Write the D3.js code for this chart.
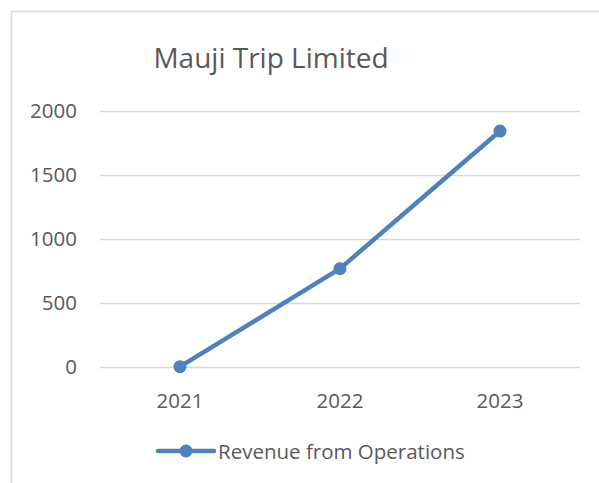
<!DOCTYPE html>
<html>
<head>
<meta charset="utf-8">
<script src="https://cdn.jsdelivr.net/npm/d3@7"></script>
<style>
  body { margin: 0; background: #fff; }
  text { font-family: "Open Sans", sans-serif; fill: #595959; }
</style>
</head>
<body>
<svg width="599" height="483"></svg>
<script>
  const years = ['2021', '2022', '2023'];
  const revenue = [0, 766, 1841];
  const yTicks = [0, 500, 1000, 1500, 2000];
  const seriesName = 'Revenue from Operations';

  const svg = d3.select('svg');
  const color = '#4f81bd';

  // chart area border (cropped at right and bottom)
  svg.append('rect')
    .attr('x', 11.5).attr('y', 11.5)
    .attr('width', 700).attr('height', 600)
    .attr('fill', 'none')
    .attr('stroke', '#d9d9d9')
    .attr('stroke-width', 1.5);

  svg.append('text')
    .attr('x', 271).attr('y', 68)
    .attr('text-anchor', 'middle')
    .style('font-size', '28px')
    .text('Mauji Trip Limited');

  const x = d3.scaleBand().domain(years).range([100, 580]);
  const y = d3.scaleLinear().domain([0, 2000]).range([366.7, 110.7]);

  // gridlines
  svg.append('g').selectAll('line')
    .data(yTicks)
    .enter().append('line')
      .attr('x1', 100).attr('x2', 580)
      .attr('y1', d => Math.round(y(d)) + 0.5)
      .attr('y2', d => Math.round(y(d)) + 0.5)
      .attr('stroke', '#d9d9d9')
      .attr('stroke-width', 1.3);

  // y labels
  svg.append('g').selectAll('text')
    .data(yTicks)
    .enter().append('text')
      .attr('x', 77)
      .attr('y', d => y(d))
      .attr('dy', '0.35em')
      .attr('text-anchor', 'end')
      .style('font-size', '20.5px')
      .text(d => d);

  // x labels
  svg.append('g').selectAll('text')
    .data(years)
    .enter().append('text')
      .attr('x', d => x(d) + x.bandwidth() / 2)
      .attr('y', 408)
      .attr('text-anchor', 'middle')
      .style('font-size', '20.5px')
      .text(d => d);

  const line = d3.line()
    .x((d, i) => x(years[i]) + x.bandwidth() / 2)
    .y(d => y(d));

  svg.append('path')
    .datum(revenue)
    .attr('d', line)
    .attr('fill', 'none')
    .attr('stroke', color)
    .attr('stroke-width', 4.5)
    .attr('stroke-linejoin', 'round')
    .attr('stroke-linecap', 'round');

  svg.append('g').selectAll('circle')
    .data(revenue)
    .enter().append('circle')
      .attr('cx', (d, i) => x(years[i]) + x.bandwidth() / 2)
      .attr('cy', d => y(d))
      .attr('r', 6.5)
      .attr('fill', color);

  // legend
  const legendG = svg.append('g').attr('transform', 'translate(158,451)');
  legendG.append('line')
    .attr('x1', 0).attr('x2', 56)
    .attr('stroke', color)
    .attr('stroke-width', 4.5)
    .attr('stroke-linecap', 'round');
  legendG.append('circle')
    .attr('cx', 28).attr('r', 6.5)
    .attr('fill', color);
  legendG.append('text')
    .attr('x', 60).attr('y', 7.5)
    .style('font-size', '20.5px')
    .text(seriesName);
</script>
</body>
</html>
